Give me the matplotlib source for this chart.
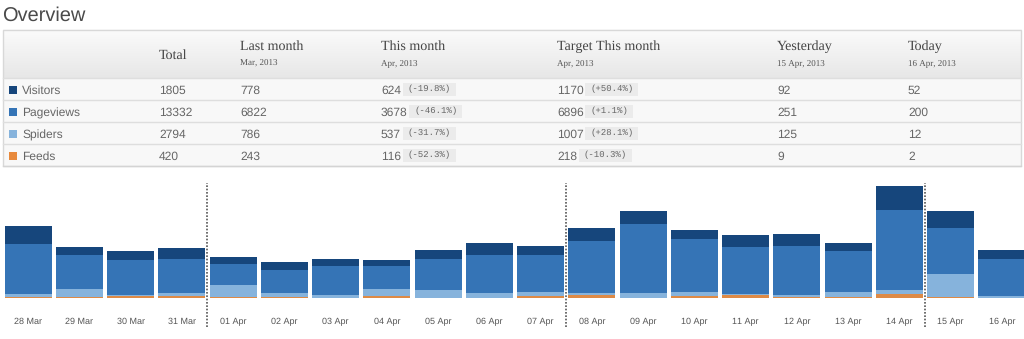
import matplotlib
matplotlib.use("Agg")
import matplotlib.pyplot as plt
from matplotlib.patches import Rectangle
import numpy as np

plt.rcParams["text.hinting"] = "no_hinting"
plt.rcParams["text.hinting_factor"] = 1

W, H = 1024, 339

# ---- daily traffic (stacked bars) ----
days = ["28 Mar", "29 Mar", "30 Mar", "31 Mar", "01 Apr", "02 Apr", "03 Apr",
        "04 Apr", "05 Apr", "06 Apr", "07 Apr", "08 Apr", "09 Apr", "10 Apr",
        "11 Apr", "12 Apr", "13 Apr", "14 Apr", "15 Apr", "16 Apr"]
feeds = [7, 5, 11, 13, 5, 5, 2, 11, 4, 4, 11, 18, 4, 13, 16, 9, 5, 23, 9, 2]
spiders = [15, 48, 6, 15, 66, 22, 18, 40, 40, 27, 26, 11, 26, 23, 9, 9, 27, 22, 125, 12]
pageviews = [275, 182, 193, 187, 115, 129, 155, 126, 171, 204, 198, 284, 373, 289,
             257, 268, 224, 435, 251, 200]
visitors = [97, 45, 48, 62, 42, 44, 40, 34, 51, 69, 51, 73, 71, 49, 66, 67, 48,
            135, 92, 52]
week_breaks = [3, 10, 17]  # separator drawn after these bars

# ---- summary table ----
series = ["Visitors", "Pageviews", "Spiders", "Feeds"]
colors = ["#16467c", "#3574b6", "#86b3dc", "#e8893c"]
total = ["1805", "13332", "2794", "420"]
last_month = ["778", "6822", "786", "243"]
this_month = ["624", "3678", "537", "116"]
this_change = ["(-19.8%)", "(-46.1%)", "(-31.7%)", "(-52.3%)"]
target = ["1170", "6896", "1007", "218"]
target_change = ["(+50.4%)", "(+1.1%)", "(+28.1%)", "(-10.3%)"]
yesterday = ["92", "251", "125", "9"]
today = ["52", "200", "12", "2"]

headers = [("Total", None), ("Last month", "Mar, 2013"), ("This month", "Apr, 2013"),
           ("Target This month", "Apr, 2013"), ("Yesterday", "15 Apr, 2013"),
           ("Today", "16 Apr, 2013")]
col_x = [159, 240, 381, 557, 777, 908]

SANS = "Liberation Sans"
SERIF = "Liberation Serif"
MONO = "Liberation Mono"

fig = plt.figure(figsize=(W / 100, H / 100), dpi=100)
fig.patch.set_facecolor("white")

# overlay in pixel units for the heading and the table
ov = fig.add_axes([0, 0, 1, 1])
ov.set_axis_off()

ov.text(2, 20.7, "Overview", fontsize=14.5, family=SANS, color="#4a4a4a", va="baseline")

left, right = 2.5, 1021
top, head_bot = 30, 78.3
row_h = 22
n_rows = len(series)
bottom = head_bot + row_h * n_rows

# header gradient
grad = np.linspace(0, 1, 64)[:, None]
c0 = np.array([0.985, 0.985, 0.985])
c1 = np.array([0.905, 0.905, 0.905])
img = (c0 + (c1 - c0) * grad)[:, :, None].transpose(0, 2, 1)
img = np.repeat(img, 2, axis=1)
ov.imshow(img, extent=(left, right, head_bot, top), aspect="auto",
          interpolation="bilinear", origin="upper")

# body rows
for i in range(n_rows):
    y0 = head_bot + i * row_h
    ov.add_patch(Rectangle((left, y0), right - left, row_h, fc="#f8f8f8", ec="none"))
    ov.plot([left, right], [y0, y0], color="#dedede", lw=1)
ov.plot([left, right], [bottom, bottom], color="#d4d4d4", lw=1)
ov.add_patch(Rectangle((left, top), right - left, bottom - top, fc="none",
                       ec="#d8d8d8", lw=1))

ov.set_xlim(0, W)
ov.set_ylim(H, 0)

# header labels
for (name, sub), x in zip(headers, col_x):
    if sub is None:
        ov.text(x, 59, name, fontsize=10, family=SERIF, color="#444444", va="baseline")
    else:
        ov.text(x, 50, name, fontsize=10, family=SERIF, color="#444444", va="baseline")
        ov.text(x, 66, sub, fontsize=6.3, family=SERIF, color="#555555", va="baseline")

fig.canvas.draw()
renderer = fig.canvas.get_renderer()


def number_with_badge(x, base, center, value, badge):
    t = ov.text(x, base, value, fontsize=8.3, family=SANS, color="#666666", va="baseline")
    w = t.get_window_extent(renderer).width
    bx = x + w + 1.5
    bt = ov.text(bx + 5, center, badge, fontsize=6.8, family=MONO, color="#666666",
                 va="center", zorder=4)
    bw = bt.get_window_extent(renderer).width
    ov.add_patch(Rectangle((bx, center - 6.3), bw + 10, 12.6, fc="#ebebeb",
                           ec="none", zorder=3))


for i, name in enumerate(series):
    y0 = head_bot + i * row_h
    base = y0 + 16
    center = y0 + 11
    ov.add_patch(Rectangle((9, base - 8.3), 8.3, 8.3, fc=colors[i], ec="none"))
    ov.text(22, base, name, fontsize=8.3, family=SANS, color="#666666", va="baseline")
    ov.text(col_x[0], base, total[i], fontsize=8.3, family=SANS, color="#666666", va="baseline")
    ov.text(col_x[1], base, last_month[i], fontsize=8.3, family=SANS, color="#666666", va="baseline")
    number_with_badge(col_x[2], base, center, this_month[i], this_change[i])
    number_with_badge(col_x[3], base, center, target[i], target_change[i])
    ov.text(col_x[4], base, yesterday[i], fontsize=8.3, family=SANS, color="#666666", va="baseline")
    ov.text(col_x[5], base, today[i], fontsize=8.3, family=SANS, color="#666666", va="baseline")

# ---- stacked bar chart ----
pitch = 51.26
first_center = 28
base_px = 298.3
top_px = 180
per_px = 5.46

ax = fig.add_axes([0, (H - base_px) / H, 1, (base_px - top_px) / H])
ax.set_facecolor("none")
x = np.arange(len(days))
bw = 47 / pitch
stack = [feeds, spiders, pageviews, visitors]
stack_colors = ["#de8a45", "#86b3dc", "#3574b6", "#16467c"]
acc = np.zeros(len(days))
for vals, c in zip(stack, stack_colors):
    vals = np.array(vals, dtype=float)
    ax.bar(x, vals, width=bw, bottom=acc, color=c, edgecolor="none", linewidth=0)
    acc += vals

ax.set_xlim(-first_center / pitch, (W - first_center) / pitch)
ax.set_ylim(0, (base_px - top_px) * per_px)

for b in week_breaks:
    ax.vlines(b + 0.5, -(327 - base_px) * per_px, (base_px - 183) * per_px,
              colors="#555555", linestyles=(0, (1, 1)), lw=1.2, clip_on=False)

ax.set_xticks(x)
ax.set_xticklabels(days, fontsize=6.2, family=SANS, color="#555555")
ax.tick_params(axis="x", length=0, pad=14)
ax.set_yticks([])
for s in ax.spines.values():
    s.set_visible(False)

fig.savefig("out.png", dpi=100, facecolor="white")
